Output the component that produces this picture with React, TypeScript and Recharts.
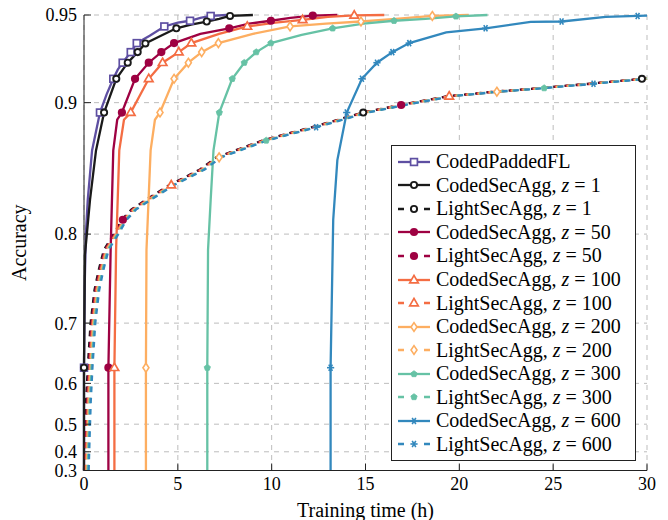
import React from 'react';
import { LineChart, Line, XAxis, YAxis, CartesianGrid, Label } from 'recharts';

const FONT = "'Liberation Serif', 'Times New Roman', serif";

// nonlinear accuracy axis (pgfplots-like coordinate transform)
const K = 3.9;
const warp = (a: number) => Math.exp(K * a);
const unwarp = (v: number) => Math.log(v) / K;

const X_TICKS = [0, 5, 10, 15, 20, 25, 30];
const Y_TICK_LABELS = [0.3, 0.4, 0.5, 0.6, 0.7, 0.8, 0.9, 0.95];

// ---- CodedPaddedFL
const PFL_T = [0, 0, 0.04, 0.1, 0.2, 0.43, 0.85, 1.2, 1.56, 1.8, 2.06, 2.49, 2.81, 3.5, 4.28, 5.0, 5.65, 6.2, 6.75, 7.6];
const PFL_A = [0.3, 0.63, 0.75, 0.8, 0.83, 0.868, 0.8937, 0.905, 0.9146, 0.92, 0.924, 0.93, 0.935, 0.939, 0.944, 0.946, 0.947, 0.9485, 0.9495, 0.95];
const PFL_M = [1, 6, 8, 10, 11, 12, 14, 16, 18];

// ---- CodedSecAgg
const C1_T = [0, 0, 0.05, 0.32, 0.64, 1.07, 1.72, 2.33, 2.86, 3.27, 4.1, 4.92, 5.7, 6.54, 7.2, 7.78, 9.0];
const C1_A = [0.3, 0.63, 0.78, 0.83, 0.868, 0.8937, 0.9146, 0.924, 0.93, 0.9348, 0.939, 0.943, 0.945, 0.9466, 0.948, 0.9495, 0.95];
const C50_T = [1.3, 1.3, 1.42, 1.56, 1.77, 2.02, 2.72, 3.45, 4.12, 4.8, 6.2, 7.74, 8.8, 9.96, 11.0, 12.19, 13.5];
const C50_A = [0.3, 0.63, 0.785, 0.868, 0.889, 0.8937, 0.9146, 0.924, 0.93, 0.935, 0.94, 0.943, 0.9455, 0.947, 0.9485, 0.9497, 0.95];
const C100_T = [1.62, 1.62, 1.71, 1.88, 2.13, 2.49, 3.45, 4.19, 5.05, 5.72, 7.2, 8.7, 10.2, 11.65, 13.0, 14.4, 16.0];
const C100_A = [0.3, 0.63, 0.785, 0.868, 0.889, 0.8937, 0.9146, 0.924, 0.93, 0.935, 0.94, 0.944, 0.946, 0.9475, 0.949, 0.9498, 0.95];
const C200_T = [3.3, 3.3, 3.33, 3.55, 3.78, 4.05, 4.8, 5.56, 6.27, 7.16, 9.0, 10.98, 12.9, 14.76, 16.6, 18.56, 20.5];
const C200_A = [0.3, 0.63, 0.785, 0.868, 0.889, 0.8937, 0.9146, 0.924, 0.93, 0.935, 0.94, 0.944, 0.9455, 0.9466, 0.948, 0.9495, 0.95];
const C300_T = [6.57, 6.57, 6.61, 6.75, 6.9, 7.21, 7.9, 8.54, 9.18, 9.96, 11.6, 13.25, 14.9, 16.52, 18.2, 19.82, 21.5];
const C300_A = [0.3, 0.63, 0.785, 0.83, 0.868, 0.8937, 0.9146, 0.924, 0.93, 0.935, 0.9395, 0.943, 0.9455, 0.947, 0.948, 0.9493, 0.95];
const C_M = [1, 5, 6, 7, 8, 9, 11, 13, 15];
const C600_T = [13.14, 13.14, 13.28, 13.5, 14.0, 14.81, 15.61, 16.43, 17.33, 19.3, 21.4, 23.8, 25.45, 27.8, 29.5, 30.0];
const C600_A = [0.3, 0.63, 0.813, 0.861, 0.8937, 0.9146, 0.924, 0.93, 0.935, 0.9408, 0.943, 0.9464, 0.9466, 0.949, 0.9495, 0.9497];
const C600_M = [1, 4, 5, 6, 7, 8, 10, 12, 14];

// ---- LightSecAgg (all nearly identical)
const L_A = [0.3, 0.41, 0.48, 0.56, 0.63, 0.7, 0.742, 0.764, 0.785, 0.8, 0.813, 0.822, 0.83, 0.842, 0.854, 0.863, 0.875, 0.884, 0.8937, 0.8985, 0.904, 0.9068, 0.909, 0.9116, 0.9146, 0.9148];
const L1_T = [0.0, 0.03, 0.06, 0.11, 0.2, 0.35, 0.56, 0.78, 1.06, 1.58, 2.02, 2.53, 3.3, 4.55, 6.18, 7.05, 9.51, 12.12, 14.88, 16.85, 19.36, 21.85, 24.32, 26.9, 29.73, 30.0];
const L50_T = [0.05, 0.08, 0.11, 0.16, 0.25, 0.4, 0.61, 0.83, 1.11, 1.63, 2.07, 2.58, 3.35, 4.6, 6.23, 7.1, 9.56, 12.17, 14.93, 16.9, 19.41, 21.9, 24.37, 26.95, 29.78, 30.0];
const L100_T = [0.1, 0.13, 0.16, 0.21, 0.3, 0.45, 0.66, 0.88, 1.16, 1.68, 2.12, 2.63, 3.4, 4.65, 6.28, 7.15, 9.61, 12.22, 14.98, 16.95, 19.46, 21.95, 24.42, 27.0, 29.83, 30.0];
const L200_T = [0.15, 0.18, 0.21, 0.26, 0.35, 0.5, 0.71, 0.93, 1.21, 1.73, 2.17, 2.68, 3.45, 4.7, 6.33, 7.2, 9.66, 12.27, 15.03, 17.0, 19.51, 22.0, 24.47, 27.05, 29.88, 30.0];
const L300_T = [0.2, 0.23, 0.26, 0.31, 0.4, 0.55, 0.76, 0.98, 1.26, 1.78, 2.22, 2.73, 3.5, 4.75, 6.38, 7.25, 9.71, 12.32, 15.08, 17.05, 19.56, 22.05, 24.52, 27.1, 29.93, 30.0];
const L600_T = [0.25, 0.28, 0.31, 0.36, 0.45, 0.6, 0.81, 1.03, 1.31, 1.83, 2.27, 2.78, 3.55, 4.8, 6.43, 7.3, 9.76, 12.37, 15.13, 17.1, 19.61, 22.1, 24.57, 27.15, 29.98, 30.0];
const L1_M = [18, 24];
const L50_M = [10, 19];
const L100_M = [13, 20];
const L200_M = [15, 21];
const L300_M = [16, 22];
const L600_M = [17, 23];

const C_PURPLE = '#5e4fa2';
const C_BLACK = '#1a1a1a';
const C_CRIMSON = '#9e0142';
const C_ORANGE = '#f46d43';
const C_LORANGE = '#fdae61';
const C_TEAL = '#66c2a5';
const C_BLUE = '#3288bd';

type Series = {
  id: string; name: string; z?: string; color: string; marker: string; dashed: boolean;
  t: number[]; a: number[]; marks: number[];
};

const SERIES: Series[] = [
  { id: 'pfl', name: 'CodedPaddedFL', color: C_PURPLE, marker: 'square', dashed: false, t: PFL_T, a: PFL_A, marks: PFL_M },
  { id: 'c1', name: 'CodedSecAgg', z: '1', color: C_BLACK, marker: 'ocircle', dashed: false, t: C1_T, a: C1_A, marks: C_M },
  { id: 'l1', name: 'LightSecAgg', z: '1', color: C_BLACK, marker: 'ocircle', dashed: true, t: L1_T, a: L_A, marks: L1_M },
  { id: 'c50', name: 'CodedSecAgg', z: '50', color: C_CRIMSON, marker: 'fcircle', dashed: false, t: C50_T, a: C50_A, marks: C_M },
  { id: 'l50', name: 'LightSecAgg', z: '50', color: C_CRIMSON, marker: 'fcircle', dashed: true, t: L50_T, a: L_A, marks: L50_M },
  { id: 'c100', name: 'CodedSecAgg', z: '100', color: C_ORANGE, marker: 'triangle', dashed: false, t: C100_T, a: C100_A, marks: C_M },
  { id: 'l100', name: 'LightSecAgg', z: '100', color: C_ORANGE, marker: 'triangle', dashed: true, t: L100_T, a: L_A, marks: L100_M },
  { id: 'c200', name: 'CodedSecAgg', z: '200', color: C_LORANGE, marker: 'diamond', dashed: false, t: C200_T, a: C200_A, marks: C_M },
  { id: 'l200', name: 'LightSecAgg', z: '200', color: C_LORANGE, marker: 'diamond', dashed: true, t: L200_T, a: L_A, marks: L200_M },
  { id: 'c300', name: 'CodedSecAgg', z: '300', color: C_TEAL, marker: 'pentagon', dashed: false, t: C300_T, a: C300_A, marks: C_M },
  { id: 'l300', name: 'LightSecAgg', z: '300', color: C_TEAL, marker: 'pentagon', dashed: true, t: L300_T, a: L_A, marks: L300_M },
  { id: 'c600', name: 'CodedSecAgg', z: '600', color: C_BLUE, marker: 'star', dashed: false, t: C600_T, a: C600_A, marks: C600_M },
  { id: 'l600', name: 'LightSecAgg', z: '600', color: C_BLUE, marker: 'star', dashed: true, t: L600_T, a: L_A, marks: L600_M },
];

function renderMarker(kind: string, cx: number, cy: number, color: string) {
  switch (kind) {
    case 'square':
      return <rect x={cx - 3.4} y={cy - 3.4} width={6.8} height={6.8} fill="#fff" stroke={color} strokeWidth={1.7} />;
    case 'ocircle':
      return <circle cx={cx} cy={cy} r={3.1} fill="#fff" stroke={color} strokeWidth={1.9} />;
    case 'fcircle':
      return <circle cx={cx} cy={cy} r={4.1} fill={color} stroke="none" />;
    case 'triangle':
      return (
        <polygon
          points={`${cx},${cy - 4.6} ${cx - 4.3},${cy + 2.8} ${cx + 4.3},${cy + 2.8}`}
          fill="#fff" stroke={color} strokeWidth={1.7} strokeLinejoin="miter"
        />
      );
    case 'diamond':
      return (
        <polygon
          points={`${cx},${cy - 4.4} ${cx + 3},${cy} ${cx},${cy + 4.4} ${cx - 3},${cy}`}
          fill="#fff" stroke={color} strokeWidth={1.6}
        />
      );
    case 'pentagon': {
      const pts: string[] = [];
      for (let k = 0; k < 5; k++) {
        const ang = -Math.PI / 2 + (k * 2 * Math.PI) / 5;
        pts.push(`${cx + 3.3 * Math.cos(ang)},${cy + 3.3 * Math.sin(ang)}`);
      }
      return <polygon points={pts.join(' ')} fill={color} stroke={color} strokeWidth={0.8} />;
    }
    case 'star': {
      const r = 3.6;
      const segs = [0, 60, 120].map((deg) => {
        const rad = (deg * Math.PI) / 180;
        const dx = r * Math.cos(rad);
        const dy = r * Math.sin(rad);
        return <line key={deg} x1={cx - dx} y1={cy - dy} x2={cx + dx} y2={cy + dy} stroke={color} strokeWidth={1.6} />;
      });
      return <g>{segs}</g>;
    }
    default:
      return null;
  }
}

function makeDot(s: Series) {
  const set = new Set(s.marks);
  return (p: any) => {
    const i = p.index;
    if (!set.has(i) || p.cx == null || p.cy == null) return <g key={`${s.id}-n-${i}`} />;
    return <g key={`${s.id}-d-${i}`}>{renderMarker(s.marker, p.cx, p.cy, s.color)}</g>;
  };
}

const fmtY = (v: number) => String(Math.round(unwarp(v) * 100) / 100);

function LegendBox() {
  return (
    <div
      style={{
        position: 'absolute', left: 391, top: 145, width: 245, height: 316, boxSizing: 'border-box',
        border: '1px solid #222', background: '#fff', paddingTop: 4, fontFamily: FONT, fontSize: 20, color: '#000',
      }}
    >
      {SERIES.map((s) => (
        <div key={s.id} style={{ height: 23.55, display: 'flex', alignItems: 'center', whiteSpace: 'nowrap' }}>
          <svg width={32} height={14} style={{ marginLeft: 6, marginRight: 6, flex: 'none', overflow: 'visible' }}>
            <line x1={0} y1={7} x2={32} y2={7} stroke={s.color} strokeWidth={2.3}
              strokeDasharray={s.dashed ? '6 20 6' : undefined} />
            {renderMarker(s.marker, 16, 7, s.color)}
          </svg>
          <span style={{ lineHeight: '23px' }}>
            {s.name}
            {s.z ? (<>, <i>z</i> = {s.z}</>) : null}
          </span>
        </div>
      ))}
    </div>
  );
}

export default function App() {
  const yDomain = [warp(0.3), warp(0.95)];
  const yTicks = Y_TICK_LABELS.map(warp);
  const tickStyle = { fill: '#000', fontSize: 18, fontFamily: FONT };
  return (
    <div style={{ position: 'absolute', left: 0, top: 0, width: 668, height: 520, background: '#fff' }}>
      <LineChart width={668} height={520} margin={{ top: 15, right: 21, bottom: 19.5, left: 24 }}>
        <CartesianGrid stroke="#bdbdbd" strokeDasharray="5 5" strokeWidth={1} />
        <XAxis
          dataKey="x" type="number" domain={[0, 30]} ticks={X_TICKS} interval={0}
          height={30} stroke="#222" tickSize={-7} tickMargin={14} tick={tickStyle}
        >
          <Label
            content={() => (
              <text x={365.5} y={516.5} textAnchor="middle" fontFamily={FONT} fontSize={20} fill="#000">
                Training time (h)
              </text>
            )}
          />
        </XAxis>
        <XAxis
          xAxisId="top" orientation="top" type="number" domain={[0, 30]} ticks={X_TICKS} interval={0}
          height={0} stroke="#222" tickSize={-7} tick={false}
        />
        <YAxis
          type="number" domain={yDomain} ticks={yTicks} interval={0} width={60}
          stroke="#222" tickSize={-7} tickMargin={14} tick={tickStyle} tickFormatter={fmtY}
        >
          <Label
            content={() => (
              <text x={25.5} y={242.75} transform="rotate(-90 25.5 242.75)" textAnchor="middle"
                fontFamily={FONT} fontSize={20} fill="#000">
                Accuracy
              </text>
            )}
          />
        </YAxis>
        <YAxis
          yAxisId="right" orientation="right" type="number" domain={yDomain} ticks={yTicks} interval={0}
          width={0} stroke="#222" tickSize={-7} tick={false}
        />
        {SERIES.map((s) => (
          <Line
            key={s.id}
            data={s.t.map((t, i) => ({ x: t, y: warp(s.a[i]) }))}
            dataKey="y"
            type="linear"
            stroke={s.color}
            strokeWidth={2.3}
            strokeDasharray={s.dashed ? '5.6 5.6' : undefined}
            dot={makeDot(s)}
            activeDot={false}
            isAnimationActive={false}
            legendType="none"
          />
        ))}
      </LineChart>
      <LegendBox />
    </div>
  );
}
